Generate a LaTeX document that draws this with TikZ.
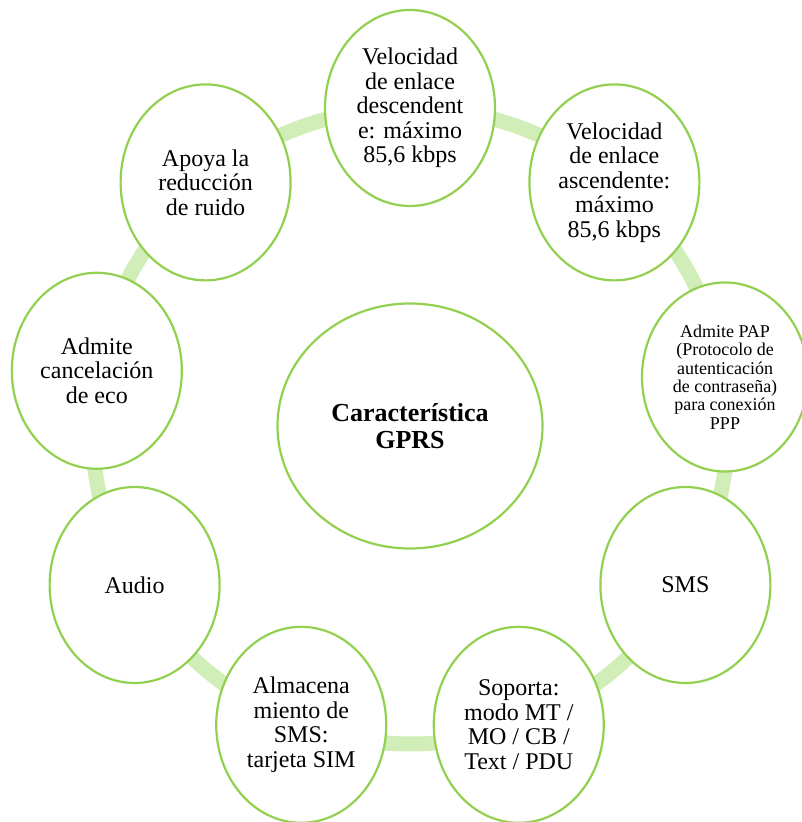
\documentclass[tikz,border=0pt]{standalone}
\usepackage{fontspec}
\setmainfont{Liberation Serif}
\usetikzlibrary{shapes.geometric}
\definecolor{ringgreen}{HTML}{D1EEB9}
\definecolor{edgegreen}{HTML}{92D050}
\tikzset{
  feat/.style={ellipse, draw=edgegreen, line width=2.2pt, fill=white,
    minimum width=170pt, minimum height=196pt, inner sep=0pt, align=center,
    font=\fontsize{24}{24.5}\selectfont},
  small/.style={minimum width=166pt, minimum height=189pt, font=\fontsize{18}{18.4}\selectfont},
  hub/.style={ellipse, draw=edgegreen, line width=2.2pt, fill=white,
    minimum width=265pt, minimum height=245pt, inner sep=0pt, align=center,
    font=\fontsize{26}{27}\selectfont\bfseries},
  ring/.style={draw=ringgreen, line width=15pt}
}
\begin{document}
\begin{tikzpicture}[x=1pt,y=1pt]
\useasboundingbox (0,0) rectangle (802,822);
\begin{scope}[shift={(410,396)}]
  \coordinate (c) at (0,0);
  \draw[ring] (c) circle (318);
  \node[hub] (hub) at (c) {Característica\\GPRS};
  \node[feat] (n1) at (90:318) {Velocidad\\de enlace\\descendent\\e: máximo\\85,6 kbps};
  \node[feat] (n2) at (50:318) {Velocidad\\de enlace\\ascendente:\\máximo\\85,6 kbps};
  \node[feat,small] (n3) at (315,49) {Admite PAP\\(Protocolo de\\autenticación\\de contraseña)\\para conexión\\PPP};
  \node[feat] (n4) at (-30:318) {SMS};
  \node[feat] (n5) at (-70:318) {Soporta:\\modo MT /\\MO / CB /\\Text / PDU};
  \node[feat] (n6) at (-110:318) {Almacena\\miento de\\SMS:\\tarjeta SIM};
  \node[feat] (n7) at (-150:318) {Audio};
  \node[feat] (n8) at (170:318) {Admite\\cancelación\\de eco};
  \node[feat] (n9) at (130:318) {Apoya la\\reducción\\de ruido};
\end{scope}
\end{tikzpicture}
\end{document}
